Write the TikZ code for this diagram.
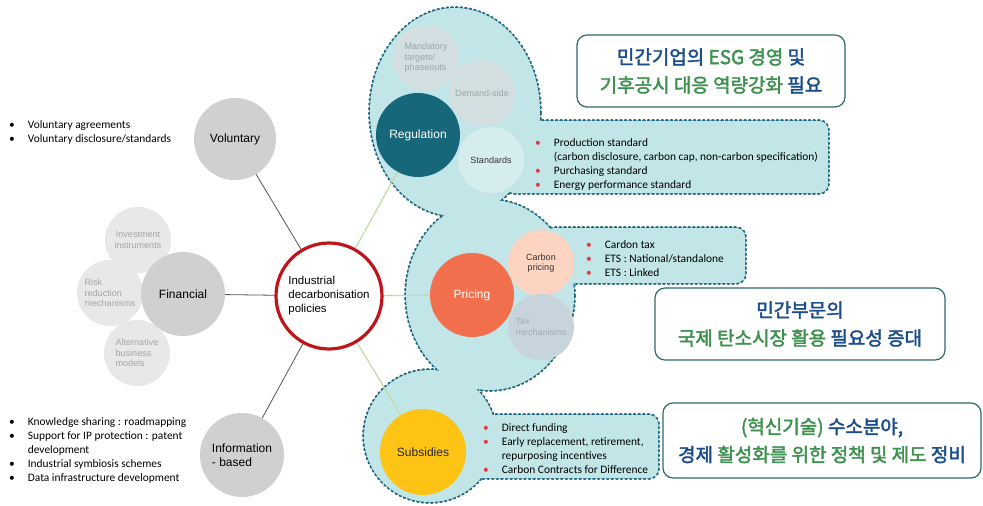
\documentclass[tikz,border=0pt]{standalone}
\usepackage{fontspec}
\setmainfont{Liberation Sans}
\newfontfamily\carl{Carlito}
\newfontfamily\kor[FakeBold=2.2]{Noto Sans CJK KR}
\usetikzlibrary{shapes.geometric}
\definecolor{blobfill}{HTML}{C2E5E8}
\definecolor{blobline}{HTML}{1E6A82}
\definecolor{grayc}{HTML}{CFD0D2}
\definecolor{lightc}{HTML}{E8E8EA}
\definecolor{lighttext}{HTML}{A4A4A6}
\definecolor{regc}{HTML}{17677B}
\definecolor{regsub}{HTML}{D3DEE1}
\definecolor{regsubtext}{HTML}{9BA6AA}
\definecolor{stdc}{HTML}{D6EDEF}
\definecolor{pricec}{HTML}{F26F4E}
\definecolor{carbc}{HTML}{FCD4C1}
\definecolor{taxc}{HTML}{C8D4DB}
\definecolor{taxtext}{HTML}{A0ABB2}
\definecolor{subc}{HTML}{FDC416}
\definecolor{redc}{HTML}{C0141B}
\definecolor{bulred}{HTML}{E0393E}
\definecolor{krblue}{HTML}{1D4E8C}
\definecolor{krgreen}{HTML}{3F9150}
\definecolor{krbox}{HTML}{2E6A6D}
\definecolor{linegray}{HTML}{555555}
\definecolor{linegreen}{HTML}{C3DBA5}
\newcommand\myblob[1]{%
  \path[#1] (455,112) ellipse [x radius=85pt, y radius=104pt];
  \path[#1] (490,295) ellipse [x radius=84pt, y radius=95pt];
  \path[#1] (430,436) ellipse [x radius=66pt, y radius=66pt];
  \path[#1,rounded corners=9pt] (505,121) rectangle (828,193);
  \path[#1,rounded corners=9pt] (545,228) rectangle (745,283);
  \path[#1,rounded corners=9pt] (460,415) rectangle (658,478);
}
\newcommand\rb{\textcolor{bulred}{•}}
\begin{document}
\begin{tikzpicture}[x=1pt,y=-1pt,
  bigcirc/.style={circle,inner sep=0pt,minimum size=84pt,align=center,font=\fontsize{12}{14}\selectfont},
  smallcirc/.style={circle,inner sep=0pt,minimum size=66pt,align=center,font=\fontsize{9}{10.5}\selectfont},
  blobedge/.style={draw=blobline,line width=4pt,dash pattern=on 0pt off 4.6pt,line cap=round},
  blobbody/.style={fill=blobfill},
  bullist/.style={inner sep=0pt,anchor=west,font=\carl\fontsize{11.4}{13.9}\selectfont,align=left},
  grayline/.style={draw=linegray,line width=0.8pt},
  greenline/.style={draw=linegreen,line width=1.2pt},
  krnote/.style={draw=krbox,line width=1.2pt,rounded corners=10pt,fill=white,inner sep=0pt,font=\kor\fontsize{19}{28}\selectfont,align=center}
]
\useasboundingbox (0,0) rectangle (983,506);
\fill[white] (0,0) rectangle (983,506);
% teal blob
\myblob{blobedge}
\myblob{blobbody}
% left circles
\node[bigcirc,fill=grayc,minimum size=82pt] (vol) at (235,139) {Voluntary};
\node[smallcirc,fill=lightc,text=lighttext] (inv) at (138,240) {Investment\\instruments};
\node[smallcirc,fill=lightc,text=lighttext,align=left] (risk) at (110,293) {Risk\\reduction\\mechanisms};
\node[smallcirc,fill=lightc,text=lighttext,align=left] (alt) at (137,353) {Alternative\\business\\models};
\node[bigcirc,fill=grayc] (fin) at (183,294) {Financial};
\node[bigcirc,fill=grayc,align=left] (info) at (242,455) {Information\\- based};
\node[circle,draw=redc,line width=3.2pt,fill=white,minimum size=106pt,inner sep=0pt,align=left,font=\fontsize{11.5}{14}\selectfont] (core) at (329,296) {Industrial\\decarbonisation\\policies};
% regulation group
\node[smallcirc,fill=regsub,text=regsubtext,align=left] (mand) at (426,58) {Mandatory\\targets/\\phaseouts};
\node[smallcirc,fill=regsub,text=regsubtext] (dem) at (482,93) {Demand-side};
\node[smallcirc,fill=stdc,text=black!80] (std) at (491,160) {Standards};
\node[bigcirc,fill=regc,text=white] (reg) at (418,135) {Regulation};
% pricing group
\node[smallcirc,fill=carbc,text=black!80] (carb) at (541,263) {Carbon\\pricing};
\node[smallcirc,fill=taxc,text=taxtext,align=left] (tax) at (541,327) {Tax\\mechanisms};
\node[bigcirc,fill=pricec,text=white] (pri) at (472,295) {Pricing};
% subsidies
\node[bigcirc,fill=subc,text=black!85,minimum size=86pt] (sub) at (423,452) {Subsidies};
% connectors
\draw[grayline] (vol) -- (core);
\draw[grayline] (fin) -- (core);
\draw[grayline] (info) -- (core);
\draw[greenline] (core) -- (reg);
\draw[greenline] (core) -- (pri);
\draw[greenline] (core) -- (sub);
% bullet lists
\node[bullist] (volb) at (9,133) {\begin{tabular}{@{}l@{\hspace{13pt}}l@{}}•&Voluntary agreements\\•&Voluntary disclosure/standards\end{tabular}};
\node[bullist] (infob) at (9,451) {\begin{tabular}{@{}l@{\hspace{13pt}}l@{}}•&Knowledge sharing : roadmapping\\•&Support for IP protection : patent\\&development\\•&Industrial symbiosis schemes\\•&Data infrastructure development\end{tabular}};
\node[bullist] (stdb) at (535,165) {\begin{tabular}{@{}l@{\hspace{13pt}}l@{}}\rb&Production standard\\&(carbon disclosure, carbon cap, non-carbon specification)\\\rb&Purchasing standard\\\rb&Energy performance standard\end{tabular}};
\node[bullist] (prib) at (586,260) {\begin{tabular}{@{}l@{\hspace{13pt}}l@{}}\rb&Cardon tax\\\rb&ETS : National/standalone\\\rb&ETS : Linked\end{tabular}};
\node[bullist] (subb) at (483,450) {\begin{tabular}{@{}l@{\hspace{13pt}}l@{}}\rb&Direct funding\\\rb&Early replacement, retirement,\\&repurposing incentives\\\rb&Carbon Contracts for Difference\end{tabular}};
% korean notes
\node[krnote,minimum width=268pt,minimum height=72pt] (k1) at (711,71) {\textcolor{krblue}{민간기업의} \textcolor{krgreen}{ESG 경영} \textcolor{krblue}{및}\\\textcolor{krgreen}{기후공시 대응 역량강화} \textcolor{krblue}{필요}};
\node[krnote,minimum width=290pt,minimum height=72pt] (k2) at (800,324) {\textcolor{krblue}{민간부문의}\\\textcolor{krgreen}{국제 탄소시장 활용} \textcolor{krblue}{필요성 증대}};
\node[krnote,minimum width=318pt,minimum height=75pt] (k3) at (822,440.5) {\textcolor{krgreen}{(혁신기술)} \textcolor{krblue}{수소분야,}\\\textcolor{krblue}{경제} \textcolor{krgreen}{활성화를 위한 정책 및 제도} \textcolor{krblue}{정비}};
\end{tikzpicture}
\end{document}
